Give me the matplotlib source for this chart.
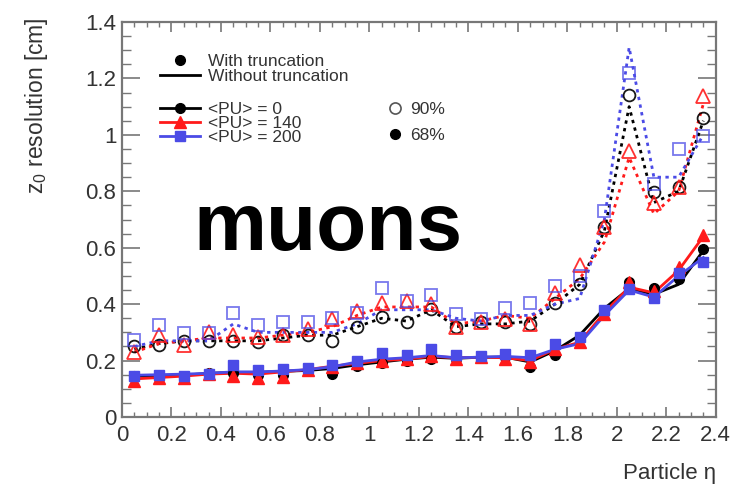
import matplotlib
matplotlib.use("Agg")
import matplotlib.pyplot as plt
from matplotlib.lines import Line2D
from matplotlib.ticker import MultipleLocator, FuncFormatter

plt.rcParams['font.family'] = ['Liberation Sans', 'DejaVu Sans']
plt.rcParams['mathtext.default'] = 'regular'

# eta bin centres
eta = [0.05, 0.15, 0.25, 0.35, 0.45, 0.55, 0.65, 0.75, 0.85, 0.95, 1.05, 1.15,
       1.25, 1.35, 1.45, 1.55, 1.65, 1.75, 1.85, 1.95, 2.05, 2.15, 2.25, 2.35]

# 68% resolution, with truncation (filled markers)
r68_pu0 = [0.145, 0.14, 0.14, 0.155, 0.155, 0.15, 0.15, 0.166, 0.152, 0.18, 0.19, 0.2,
           0.207, 0.207, 0.213, 0.213, 0.178, 0.219, 0.283, 0.37, 0.48, 0.457, 0.49, 0.597]
r68_pu140 = [0.128, 0.139, 0.139, 0.152, 0.145, 0.139, 0.142, 0.166, 0.178, 0.19, 0.2, 0.207,
             0.216, 0.207, 0.213, 0.207, 0.195, 0.242, 0.265, 0.364, 0.48, 0.446, 0.533, 0.644]
r68_pu200 = [0.146, 0.149, 0.146, 0.152, 0.185, 0.167, 0.17, 0.173, 0.185, 0.2, 0.226, 0.218,
             0.24, 0.22, 0.216, 0.222, 0.219, 0.26, 0.283, 0.38, 0.452, 0.422, 0.51, 0.548]

# 68% resolution, without truncation (solid lines)
l68_pu0 = [0.145, 0.145, 0.148, 0.155, 0.158, 0.158, 0.162, 0.165, 0.172, 0.185, 0.195, 0.205,
           0.212, 0.208, 0.212, 0.212, 0.195, 0.235, 0.29, 0.385, 0.455, 0.435, 0.47, 0.59]
l68_pu140 = [0.135, 0.14, 0.145, 0.152, 0.155, 0.152, 0.16, 0.168, 0.18, 0.19, 0.2, 0.205,
             0.215, 0.21, 0.212, 0.21, 0.2, 0.24, 0.265, 0.37, 0.46, 0.44, 0.52, 0.64]
l68_pu200 = [0.148, 0.15, 0.152, 0.155, 0.16, 0.16, 0.163, 0.168, 0.178, 0.195, 0.205, 0.21,
             0.218, 0.21, 0.212, 0.215, 0.21, 0.24, 0.26, 0.36, 0.45, 0.425, 0.5, 0.565]

# 90% resolution, with truncation (open markers)
r90_pu0 = [0.25, 0.254, 0.271, 0.271, 0.271, 0.265, 0.289, 0.29, 0.271, 0.318, 0.353, 0.335,
           0.382, 0.318, 0.335, 0.335, 0.33, 0.405, 0.47, 0.673, 1.14, 0.797, 0.815, 1.06]
r90_pu140 = [0.23, 0.289, 0.254, 0.3, 0.289, 0.283, 0.289, 0.312, 0.347, 0.376, 0.405, 0.41,
             0.4, 0.318, 0.335, 0.347, 0.33, 0.44, 0.539, 0.673, 0.944, 0.76, 0.815, 1.137]
r90_pu200 = [0.274, 0.327, 0.298, 0.299, 0.369, 0.327, 0.336, 0.336, 0.351, 0.37, 0.458, 0.41,
             0.434, 0.364, 0.347, 0.388, 0.405, 0.463, 0.498, 0.73, 1.22, 0.826, 0.95, 0.996]

# 90% resolution, without truncation (dotted lines)
l90_pu0 = [0.24, 0.26, 0.27, 0.27, 0.27, 0.27, 0.28, 0.29, 0.29, 0.32, 0.35, 0.34,
           0.38, 0.32, 0.33, 0.33, 0.34, 0.4, 0.47, 0.66, 1.1, 0.76, 0.8, 1.05]
l90_pu140 = [0.23, 0.26, 0.27, 0.28, 0.28, 0.28, 0.29, 0.3, 0.32, 0.36, 0.39, 0.39,
             0.39, 0.33, 0.34, 0.36, 0.35, 0.42, 0.49, 0.62, 0.92, 0.72, 0.8, 1.11]
l90_pu200 = [0.25, 0.27, 0.27, 0.27, 0.33, 0.3, 0.3, 0.3, 0.3, 0.33, 0.38, 0.38,
             0.38, 0.35, 0.34, 0.36, 0.36, 0.4, 0.42, 0.7, 1.31, 0.85, 0.85, 1.0]

pu_labels = ['<PU> = 0', '<PU> = 140', '<PU> = 200']
colors = ['black', '#ff1a1a', '#4b4be6']
markers = ['o', '^', 's']
msizes = [7, 8, 7.5]

fig = plt.figure(figsize=(7.44, 4.91), dpi=100)
ax = fig.add_axes([0.164, 0.1507, 0.798, 0.8045])

r68 = [r68_pu0, r68_pu140, r68_pu200]
l68 = [l68_pu0, l68_pu140, l68_pu200]
r90 = [r90_pu0, r90_pu140, r90_pu200]
l90 = [l90_pu0, l90_pu140, l90_pu200]

for i in range(3):
    c = colors[i]
    ax.plot(eta, l90[i], linestyle=(0, (1.2, 1.6)), color=c, lw=2.0, zorder=2)
    ax.plot(eta, r90[i], linestyle='none', marker=markers[i], ms=msizes[i] + 1.5,
            mfc='none', mec=c, mew=1.3, alpha=0.75 if i == 2 else 0.9, zorder=3)
for i in range(3):
    c = colors[i]
    ax.plot(eta, l68[i], linestyle='-', color=c, lw=2.0, zorder=4)
    ax.plot(eta, r68[i], linestyle='none', marker=markers[i], ms=msizes[i],
            mfc=c, mec=c, zorder=5)

ax.set_xlim(0, 2.4)
ax.set_ylim(0, 1.4)

fmt = FuncFormatter(lambda v, p: ('%g' % round(v, 3)))
ax.xaxis.set_major_locator(MultipleLocator(0.2))
ax.xaxis.set_minor_locator(MultipleLocator(0.05))
ax.yaxis.set_major_locator(MultipleLocator(0.2))
ax.yaxis.set_minor_locator(MultipleLocator(0.05))
ax.xaxis.set_major_formatter(fmt)
ax.yaxis.set_major_formatter(fmt)

frame_col = '#777777'
for s in ax.spines.values():
    s.set_color(frame_col)
    s.set_linewidth(1.6)
ax.tick_params(axis='x', which='major', direction='in', top=True, bottom=True,
               length=7.5, width=1.2, color=frame_col, labelsize=16, pad=6,
               labelcolor='#333333')
ax.tick_params(axis='x', which='minor', direction='in', top=True, bottom=True,
               length=3.8, width=1.0, color=frame_col)
ax.tick_params(axis='y', which='major', direction='in', left=True, right=True,
               length=13, width=1.2, color=frame_col, labelsize=16, pad=4,
               labelcolor='#333333')
ax.tick_params(axis='y', which='minor', direction='in', left=True, right=True,
               length=6.5, width=1.0, color=frame_col)

ax.set_ylabel('$z_0$ resolution [cm]', loc='top', fontsize=16.5, color='#333333')
ax.yaxis.set_label_coords(-0.121, 1.012)
ax.set_xlabel('Particle η', loc='right', fontsize=16, color='#333333')
ax.xaxis.set_label_coords(1.0, -0.117)

# legends
leg_kw = dict(frameon=False, fontsize=12.5, borderpad=0, borderaxespad=0,
              handlelength=2.3, handletextpad=0.45)
hA = [Line2D([], [], ls='none', marker='o', color='black', ms=7),
      Line2D([], [], ls='-', color='black', lw=2)]
legA = ax.legend(hA, ['With truncation', 'Without truncation'], loc='upper left',
                 bbox_to_anchor=(0.064, 0.919), labelspacing=-0.03, **leg_kw)
for t in legA.get_texts():
    t.set_color('#333333')
ax.add_artist(legA)

hB = [Line2D([], [], ls='-', color=colors[i], lw=2, marker=markers[i], ms=msizes[i])
      for i in range(3)]
legB = ax.legend(hB, pu_labels, loc='upper left', bbox_to_anchor=(0.064, 0.797),
                 labelspacing=-0.075, **leg_kw)
for t in legB.get_texts():
    t.set_color('#333333')
ax.add_artist(legB)

hC = [Line2D([], [], ls='none', marker='o', mfc='none', mec='#555555', ms=8, mew=1.2),
      Line2D([], [], ls='none', marker='o', color='black', ms=7)]
legC = ax.legend(hC, ['90%', '68%'], loc='upper left', bbox_to_anchor=(0.445, 0.797),
                 frameon=False, fontsize=12.5, borderpad=0, borderaxespad=0,
                 handlelength=1.0, handletextpad=0.4, labelspacing=0.59)
for t in legC.get_texts():
    t.set_color('#333333')

ax.text(0.347, 0.424, 'muons', transform=ax.transAxes, fontsize=59,
        fontweight='bold', ha='center', va='baseline', color='black', zorder=10)

fig.savefig('out.png', dpi=100)
